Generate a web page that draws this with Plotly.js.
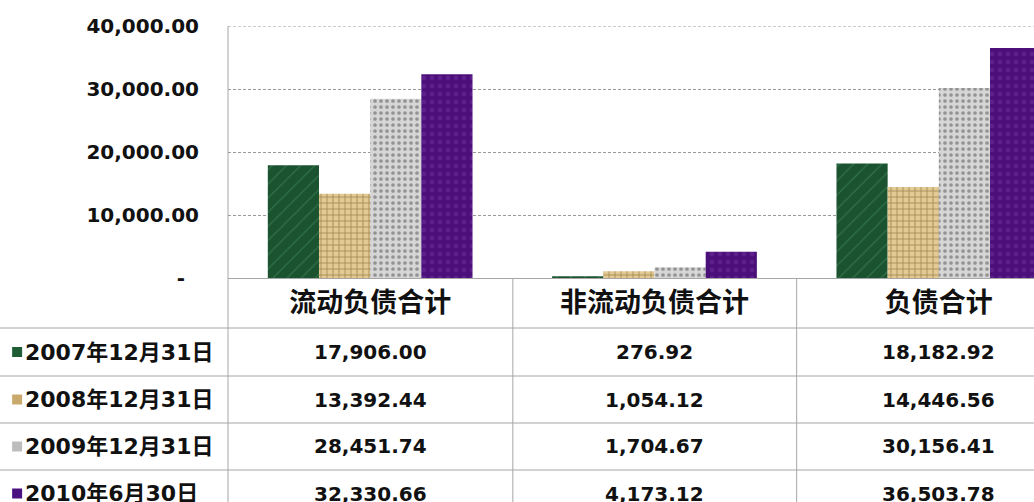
<!DOCTYPE html>
<html>
<head>
<meta charset="utf-8">
<script src="https://cdn.plot.ly/plotly-3.0.1.min.js"></script>
<style>
html,body{margin:0;padding:0;overflow:hidden;background:#fff;}
#chart{width:1090px;height:502px;}
</style>
</head>
<body>
<div id="chart"></div>
<script>
// ---- data ----
var categories = ['流动负债合计', '非流动负债合计', '负债合计'];
var seriesNames = ['2007年12月31日', '2008年12月31日', '2009年12月31日', '2010年6月30日'];
var s2007 = [17906.00, 276.92, 18182.92];
var s2008 = [13392.44, 1054.12, 14446.56];
var s2009 = [28451.74, 1704.67, 30156.41];
var s2010 = [32330.66, 4173.12, 36503.78];
var yTickVals = [0, 10000, 20000, 30000, 40000];
var yTickText = ['-\u00a0\u00a0', '10,000.00', '20,000.00', '30,000.00', '40,000.00'];

var seriesValues = [s2007, s2008, s2009, s2010];
var seriesStyle = [
  {color: '#1d5530', pattern: {shape: '/', bgcolor: '#1b5230', fgcolor: '#3f8c5c', fgopacity: 0.55, size: 10, solidity: 0.12}, key: '#1e5c34'},
  {color: '#dcc287', pattern: {shape: '+', bgcolor: '#e2ca92', fgcolor: '#7d5e2e', fgopacity: 0.65, size: 6, solidity: 0.25}, key: '#c9aa6c'},
  {color: '#d2d2d2', pattern: {shape: '.', bgcolor: '#d6d6d6', fgcolor: '#777777', fgopacity: 0.7, size: 6, solidity: 0.3}, key: '#bdbdbd'},
  {color: '#4a0f78', pattern: {shape: '.', bgcolor: '#4a0f78', fgcolor: '#6a2a9a', fgopacity: 0.6, size: 8, solidity: 0.3}, key: '#4b1080'}
];

// ---- geometry helpers (pixel -> paper) ----
var W = 1090, H = 502;
var mL = 228, mR = 8.5, mT = 26, mB = 224;
var plotW = W - mL - mR, plotH = H - mT - mB;
function px(x) { return (x - mL) / plotW; }
function py(y) { return (H - mB - y) / plotH; }

function fmt(v) {
  return v.toLocaleString('en-US', {minimumFractionDigits: 2, maximumFractionDigits: 2});
}

var numFont = {family: 'DejaVu Sans, Noto Sans CJK SC, sans-serif', size: 20, color: '#111', weight: 'bold'};

var traces = seriesNames.map(function (name, i) {
  return {
    type: 'bar',
    name: name,
    x: categories,
    y: seriesValues[i],
    marker: {color: seriesStyle[i].color, pattern: seriesStyle[i].pattern, line: {width: 0}},
    hoverinfo: 'x+y+name'
  };
});

// ---- table (data table below axis) ----
var rowLines = [328, 376, 423, 470];
var rowCenters = [352, 399.5, 446.5, 493.5];
var colBounds = [513, 797];
var shapes = [];
var gridLine = {color: '#a6a6a6', width: 1};
// top gridline at the range end
shapes.push({type: 'line', xref: 'paper', yref: 'y', x0: 0, x1: 1, y0: yTickVals[yTickVals.length - 1], y1: yTickVals[yTickVals.length - 1],
  line: {color: '#9a9a9a', width: 1, dash: '3px,2px'}});
// left vertical line extending through the table
shapes.push({type: 'line', xref: 'paper', yref: 'paper', x0: 0, x1: 0, y0: 1, y1: py(H + 5), line: gridLine});
colBounds.forEach(function (cx) {
  shapes.push({type: 'line', xref: 'paper', yref: 'paper', x0: px(cx), x1: px(cx), y0: 0, y1: py(H + 5), line: gridLine});
});
rowLines.forEach(function (ry) {
  shapes.push({type: 'line', xref: 'paper', yref: 'paper', x0: px(-5), x1: px(W + 5), y0: py(ry), y1: py(ry), line: gridLine});
});

var annotations = [];
seriesNames.forEach(function (name, i) {
  var yc = py(rowCenters[i]);
  // legend key
  shapes.push({type: 'rect', xref: 'paper', yref: 'paper', x0: px(12), x1: px(22), y0: py(rowCenters[i] + 5), y1: py(rowCenters[i] - 5),
    fillcolor: seriesStyle[i].key, line: {width: 0}});
  annotations.push({xref: 'paper', yref: 'paper', x: px(23), y: yc, xanchor: 'left', yanchor: 'middle',
    text: name, showarrow: false, font: {family: 'DejaVu Sans, Noto Sans CJK SC, sans-serif', size: 22, color: '#111', weight: 'bold'}});
  categories.forEach(function (cat, j) {
    annotations.push({xref: 'x', yref: 'paper', x: cat, y: yc, xanchor: 'center', yanchor: 'middle',
      text: fmt(seriesValues[i][j]), showarrow: false, font: numFont});
  });
});

var layout = {
  width: W, height: H,
  margin: {l: mL, r: mR, t: mT, b: mB, pad: 0},
  paper_bgcolor: '#ffffff',
  plot_bgcolor: '#ffffff',
  barmode: 'group',
  bargap: 0.28,
  bargroupgap: 0,
  showlegend: false,
  xaxis: {
    type: 'category',
    showline: true, linecolor: '#a6a6a6', linewidth: 1,
    showgrid: false, ticks: '', zeroline: false,
    tickfont: {family: 'Noto Sans CJK SC, sans-serif', size: 27, color: '#111', weight: 'bold'},
    ticklabelstandoff: 1,
    fixedrange: true
  },
  yaxis: {
    range: [0, 40000],
    tickvals: yTickVals, ticktext: yTickText,
    showgrid: true, gridcolor: '#9a9a9a', griddash: '3px,2px', gridwidth: 1,
    zeroline: true, zerolinecolor: '#a6a6a6', zerolinewidth: 1,
    showline: false, ticks: '',
    tickfont: numFont,
    ticklabelstandoff: 28,
    fixedrange: true
  },
  shapes: shapes,
  annotations: annotations
};

Plotly.newPlot('chart', traces, layout, {displayModeBar: false, staticPlot: true});
</script>
</body>
</html>
